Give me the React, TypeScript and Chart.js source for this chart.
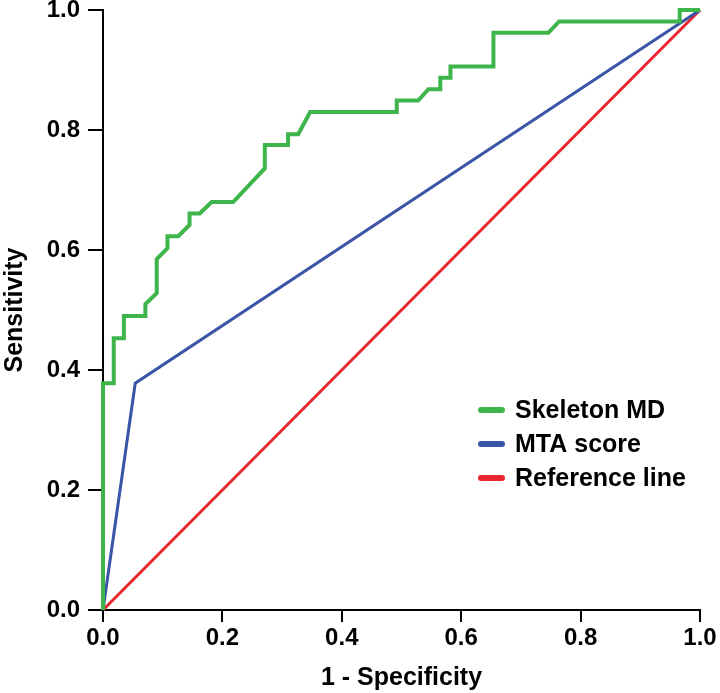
import React, { useEffect, useRef } from "react";
import { Chart, registerables } from "chart.js";

Chart.register(...registerables);

// Skeleton MD ROC curve (1 - specificity, sensitivity)
const skeletonX = [0, 0, 0.018, 0.018, 0.035, 0.035, 0.071, 0.071, 0.09, 0.09, 0.108, 0.108, 0.126, 0.145, 0.145, 0.162, 0.182, 0.218, 0.271, 0.271, 0.31, 0.31, 0.327, 0.347, 0.492, 0.492, 0.528, 0.545, 0.565, 0.565, 0.582, 0.582, 0.654, 0.654, 0.746, 0.764, 0.966, 0.966, 1];
const skeletonY = [0, 0.378, 0.378, 0.453, 0.453, 0.49, 0.49, 0.51, 0.528, 0.585, 0.603, 0.623, 0.623, 0.642, 0.661, 0.661, 0.68, 0.68, 0.736, 0.775, 0.775, 0.793, 0.793, 0.83, 0.83, 0.849, 0.849, 0.868, 0.868, 0.887, 0.887, 0.906, 0.906, 0.962, 0.962, 0.981, 0.981, 1, 1];
// MTA score ROC curve
const mtaX = [0, 0.054, 1];
const mtaY = [0, 0.378, 1];
// Reference line
const refX = [0, 1];
const refY = [0, 1];

const tickValues = [0, 0.2, 0.4, 0.6, 0.8, 1.0];
const seriesLabels = ["Skeleton MD", "MTA score", "Reference line"];
const seriesColors = ["#3db54a", "#3a55a6", "#e8262d"];

const FONT = "'Liberation Sans', Arial, sans-serif";

const toPoints = (xs: number[], ys: number[]) => xs.map((x, i) => ({ x, y: ys[i] }));

const legendPlugin = {
  id: "customLegend",
  afterDraw(chart: any) {
    const ctx = chart.ctx;
    const x0 = 478;
    const ys = [410, 444, 478];
    ctx.save();
    chart.data.datasets.forEach((ds: any, i: number) => {
      const y = ys[i];
      ctx.strokeStyle = ds.borderColor;
      ctx.lineWidth = 6;
      ctx.lineCap = "round";
      ctx.beginPath();
      ctx.moveTo(x0 + 3, y);
      ctx.lineTo(x0 + 24, y);
      ctx.stroke();
      ctx.fillStyle = "#000";
      ctx.font = `bold 25px ${FONT}`;
      ctx.textBaseline = "middle";
      ctx.textAlign = "left";
      ctx.fillText(ds.label, x0 + 37, y + 1);
    });
    ctx.restore();
  },
};

export default function App() {
  const canvasRef = useRef<HTMLCanvasElement | null>(null);

  useEffect(() => {
    if (!canvasRef.current) return;
    const chart = new Chart(canvasRef.current, {
      type: "line",
      data: {
        datasets: [
          {
            label: seriesLabels[0],
            data: toPoints(skeletonX, skeletonY),
            borderColor: seriesColors[0],
            borderWidth: 4,
            pointRadius: 0,
            tension: 0,
            clip: false as any,
          },
          {
            label: seriesLabels[1],
            data: toPoints(mtaX, mtaY),
            borderColor: seriesColors[1],
            borderWidth: 3,
            pointRadius: 0,
            tension: 0,
            clip: false as any,
          },
          {
            label: seriesLabels[2],
            data: toPoints(refX, refY),
            borderColor: seriesColors[2],
            borderWidth: 3,
            pointRadius: 0,
            tension: 0,
            clip: false as any,
          },
        ],
      },
      options: {
        animation: false,
        responsive: false,
        layout: { padding: { left: 0, top: 0, right: 20, bottom: 0 } },
        plugins: { legend: { display: false }, tooltip: { enabled: false } },
        scales: {
          x: {
            type: "linear",
            min: 0,
            max: 1,
            afterBuildTicks: (scale: any) => {
              scale.ticks = tickValues.map((v) => ({ value: v }));
            },
            afterFit: (scale: any) => {
              scale.height = 83;
            },
            ticks: {
              color: "#000",
              font: { family: FONT, size: 24, weight: "bold" },
              padding: 2,
              maxRotation: 0,
              callback: (v: any) => Number(v).toFixed(1),
            },
            grid: {
              drawOnChartArea: false,
              drawTicks: true,
              tickLength: 12,
              color: "#000",
              lineWidth: 2,
            },
            border: { display: true, color: "#000", width: 2 },
            title: {
              display: true,
              text: "1 - Specificity",
              color: "#000",
              font: { family: FONT, size: 25, weight: "bold" },
              padding: { top: 0, bottom: 0 },
            },
          },
          y: {
            type: "linear",
            min: 0,
            max: 1,
            afterBuildTicks: (scale: any) => {
              scale.ticks = tickValues.map((v) => ({ value: v }));
            },
            afterFit: (scale: any) => {
              scale.width = 103;
              scale.paddingTop = 10;
              scale.paddingBottom = 0;
            },
            ticks: {
              color: "#000",
              font: { family: FONT, size: 24, weight: "bold" },
              padding: 8,
              callback: (v: any) => Number(v).toFixed(1),
            },
            grid: {
              drawOnChartArea: false,
              drawTicks: true,
              tickLength: 15,
              color: "#000",
              lineWidth: 2,
            },
            border: { display: true, color: "#000", width: 2 },
            title: {
              display: true,
              text: "Sensitivity",
              color: "#000",
              font: { family: FONT, size: 25, weight: "bold" },
              padding: { top: 0, bottom: 0 },
            },
          },
        },
      },
      plugins: [legendPlugin],
    });
    return () => chart.destroy();
  }, []);

  return (
    <div style={{ position: "absolute", left: 0, top: 0, width: 720, height: 693, background: "#fff" }}>
      <canvas ref={canvasRef} width={720} height={693} style={{ width: 720, height: 693, display: "block" }} />
    </div>
  );
}
